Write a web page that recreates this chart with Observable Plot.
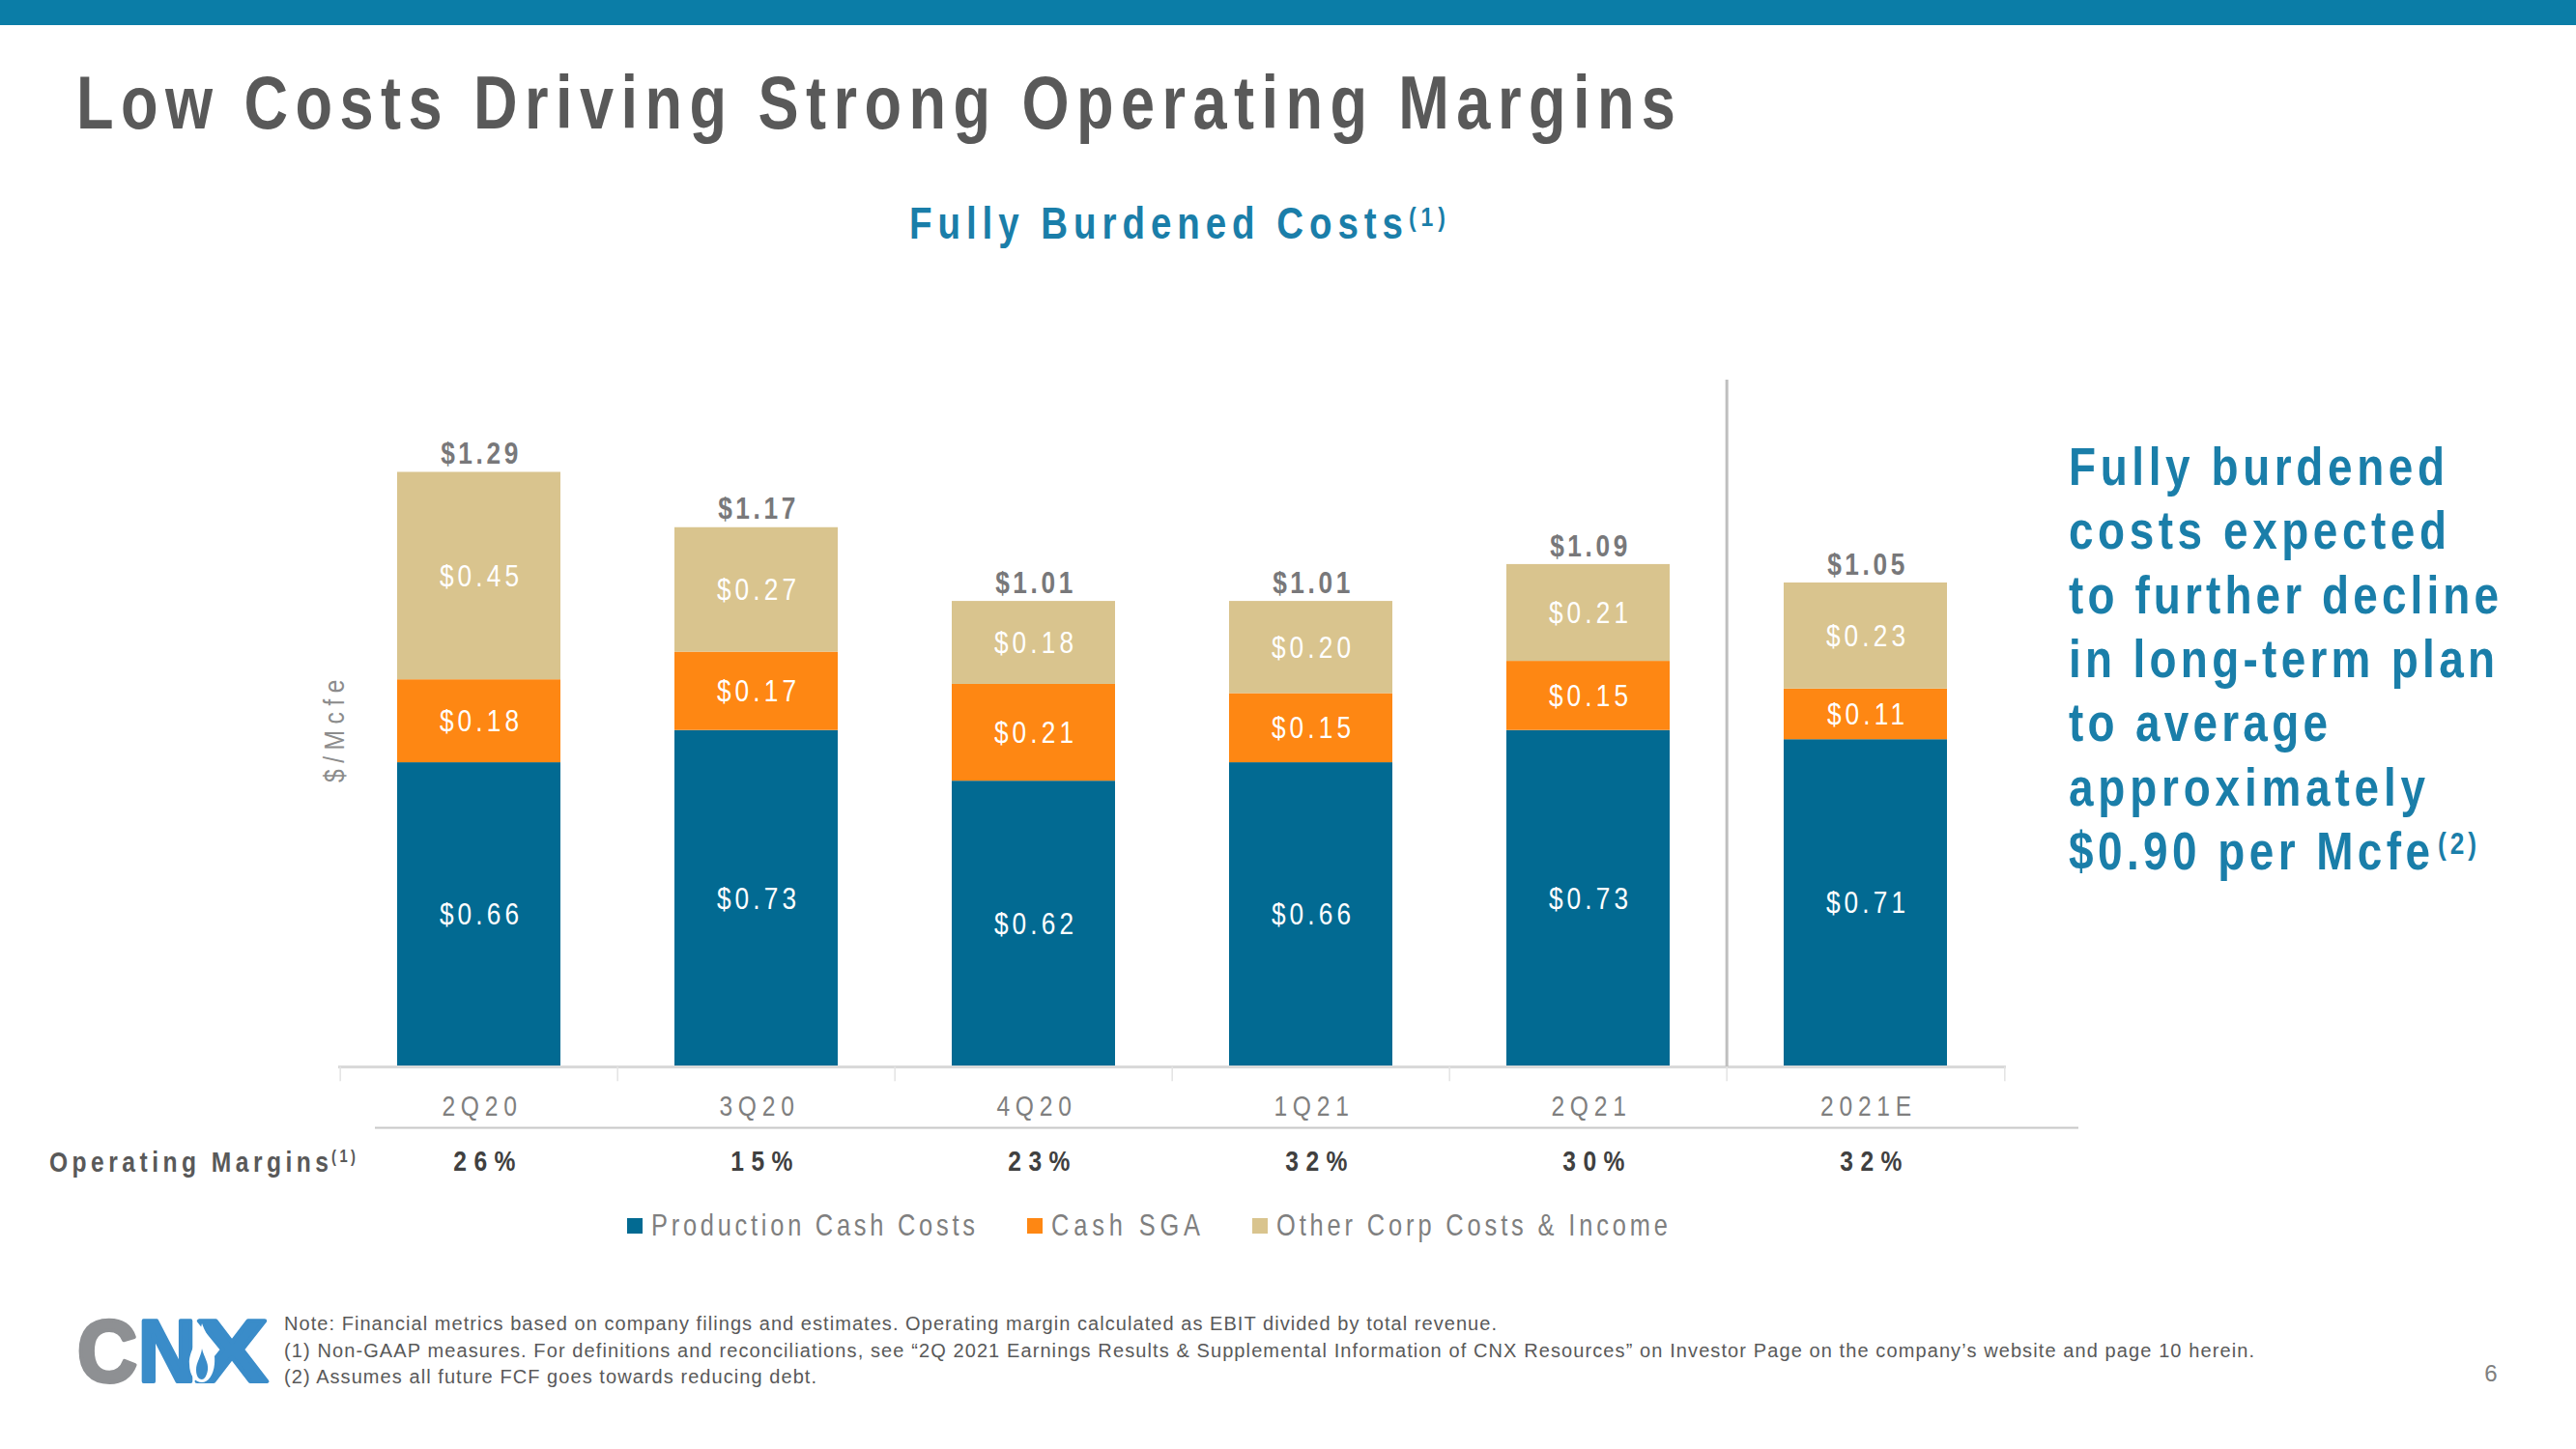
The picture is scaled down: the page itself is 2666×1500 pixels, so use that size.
<!DOCTYPE html>
<html><head><meta charset="utf-8">
<script src="https://cdn.jsdelivr.net/npm/d3@7"></script>
<script src="https://cdn.jsdelivr.net/npm/@observablehq/plot@0.6"></script>
<style>
html,body{margin:0;padding:0;background:#fff;}
body{width:2666px;height:1500px;position:relative;overflow:hidden;}
#overlay{position:absolute;left:0;top:0;}
#chart{position:absolute;left:0;top:380px;}
.seg text{letter-spacing:5px}
.tot text{letter-spacing:4.4px}
.cat text{letter-spacing:7px}
.mar text{letter-spacing:9px}
.ylab text{letter-spacing:8px}
</style>
</head><body>
<svg id="overlay" width="2666" height="1500"></svg>
<div id="chart"></div>
<script>
// ---- data ----
const categories = ["2Q20", "3Q20", "4Q20", "1Q21", "2Q21", "2021E"];
const seriesNames = ["Production Cash Costs", "Cash SGA", "Other Corp Costs & Income"];
const productionCashCosts = [0.66, 0.73, 0.62, 0.66, 0.73, 0.71];
const cashSGA = [0.18, 0.17, 0.21, 0.15, 0.15, 0.11];
const otherCorpCosts = [0.45, 0.27, 0.18, 0.20, 0.21, 0.23];
const totals = [1.29, 1.17, 1.01, 1.01, 1.09, 1.05];
const operatingMargins = ["26%", "15%", "23%", "32%", "30%", "32%"];
const seriesColors = ["#026A92", "#FE8713", "#D9C48E"];

const seriesValues = [productionCashCosts, cashSGA, otherCorpCosts];
const rows = [];
categories.forEach((c, i) => seriesNames.forEach((s, j) => rows.push({category: c, series: s, value: seriesValues[j][i]})));
const totalRows = categories.map((c, i) => ({category: c, total: totals[i]}));
const marginRows = categories.map((c, i) => ({category: c, margin: operatingMargins[i]}));

const SANS = '"Liberation Sans", Arial, sans-serif';
const NARROW_SX = 0.82; // Arial-Narrow-like horizontal compression
const W = 2200, H = 900, ML = 350, MR = 124, MT = 56, MB = 176;
const step = (W - ML - MR) / categories.length;

const chart = Plot.plot({
  width: W, height: H,
  marginLeft: ML, marginRight: MR, marginTop: MT, marginBottom: MB,
  style: {fontFamily: SANS, background: "transparent", overflow: "visible"},
  x: {domain: categories, paddingInner: 0.41, paddingOuter: 0.205, axis: null},
  y: {domain: [0, 1.4], axis: null},
  color: {domain: seriesNames, range: seriesColors},
  marks: [
    Plot.barY(rows, Plot.stackY({x: "category", y: "value", fill: "series"})),
    Plot.text(rows, Plot.stackY({x: "category", y: "value", z: "series",
      text: d => "$" + d.value.toFixed(2), fill: "white", fontSize: 32, lineAnchor: "middle", dx: 2, className: "seg"})),
    Plot.text(totalRows, {x: "category", y: "total", text: d => "$" + d.total.toFixed(2),
      dy: -19, dx: 2, fill: "#78787a", fontWeight: "bold", fontSize: 32, lineAnchor: "middle", className: "tot"}),
    Plot.ruleY([0], {stroke: "#d9d9d9", strokeWidth: 3}),
    Plot.ruleX(categories, {x: d => d, dx: -step / 2, y1: 0, y2: -0.032, stroke: "#e3e3e3", strokeWidth: 1.5}),
    Plot.ruleX([categories[categories.length - 1]], {x: d => d, dx: step / 2, y1: 0, y2: -0.032, stroke: "#e3e3e3", strokeWidth: 1.5}),
    Plot.ruleX([categories[categories.length - 1]], {x: d => d, dx: -step / 2, y1: 0, y2: 1.49, stroke: "#bfbfbf", strokeWidth: 3}),
    Plot.ruleY([0], {dy: 63, insetLeft: 38, insetRight: -75, stroke: "#c8c8c8", strokeWidth: 2}),
    Plot.axisX({tickSize: 0, tickPadding: 29, fontSize: 30, color: "#7f7f7f", label: null, dx: 3, className: "cat"}),
    Plot.text(marginRows, {x: "category", text: "margin", frameAnchor: "bottom", dy: 98, dx: 9,
      fontWeight: "bold", fontSize: 30, fill: "#404040", lineAnchor: "middle", className: "mar"}),
    Plot.text(["$/Mcfe"], {frameAnchor: "left", textAnchor: "middle", rotate: -90, dx: -4, dy: -17,
      fontSize: 30, fill: "#8c8c8c", className: "ylab"})
  ]
});
// emulate a narrow (Arial Narrow-like) face by compressing each label horizontally about its anchor
d3.select(chart).selectAll("text").each(function () {
  const t = this.getAttribute("transform");
  const x = this.getAttribute("x"), y = this.getAttribute("y");
  let base = t || "";
  if (!t && (x != null || y != null)) {
    base = `translate(${x || 0},${y || 0})`;
    this.removeAttribute("x"); this.removeAttribute("y");
  }
  this.setAttribute("transform", `${base} scale(${NARROW_SX},1)`);
});
document.getElementById("chart").appendChild(chart);

// ---- slide decorations ----
const ov = d3.select("#overlay");
ov.append("rect").attr("x", 0).attr("y", 0).attr("width", 2666).attr("height", 26).attr("fill", "#0B7DA7");
function txt(s, x, y, o) {
  const sx = o.sx || 1;
  const t = ov.append("text").attr("transform", `translate(${x},${y}) scale(${sx},1)`).text(s)
    .attr("font-family", o.family || SANS).attr("font-size", o.size)
    .attr("font-weight", o.weight || "normal").attr("fill", o.fill || "#595959")
    .attr("text-anchor", o.anchor || "start");
  if (o.len) t.attr("textLength", o.len / sx).attr("lengthAdjust", o.adjust || "spacing");
  return t;
}
const N = NARROW_SX;
const TEAL = "#1A7EA9";
txt("Low Costs Driving Strong Operating Margins", 79, 133, {size: 77, weight: "bold", fill: "#595959", len: 1655, sx: N});
txt("Fully Burdened Costs", 941, 247, {size: 47, weight: "bold", fill: TEAL, len: 511, sx: N});
txt("(1)", 1458, 234, {size: 28, weight: "bold", fill: TEAL, len: 38, sx: N});

const sideLines = ["Fully burdened", "costs expected", "to further decline", "in long-term plan", "to average", "approximately", "$0.90 per Mcfe"];
const sideLens = [389, 391, 445, 441, 268, 369, 374];
sideLines.forEach((s, i) => txt(s, 2141, 502 + 66.3 * i, {size: 56, weight: "bold", fill: TEAL, len: sideLens[i], sx: N}));
txt("(2)", 2523, 884, {size: 32, weight: "bold", fill: TEAL, len: 40, sx: N});

txt("Operating Margins", 51, 1213, {size: 30, weight: "bold", fill: "#595959", len: 289, sx: N});
txt("(1)", 343, 1203, {size: 18, weight: "bold", fill: "#595959", len: 25, sx: N});

// legend
const legendX = [649, 1063, 1296];
const legendLens = [335, 154, 405];
seriesNames.forEach((s, i) => {
  ov.append("rect").attr("x", legendX[i]).attr("y", 1261).attr("width", 16).attr("height", 16).attr("fill", seriesColors[i]);
  txt(s, legendX[i] + 25, 1279, {size: 31, fill: "#7f7f7f", len: legendLens[i], sx: N});
});

// footnotes
const notes = [
  "Note: Financial metrics based on company filings and estimates. Operating margin calculated as EBIT divided by total revenue.",
  "(1) Non-GAAP measures. For definitions and reconciliations, see \u201c2Q 2021 Earnings Results & Supplemental Information of CNX Resources\u201d on Investor Page on the company\u2019s website and page 10 herein.",
  "(2) Assumes all future FCF goes towards reducing debt."
];
const noteLens = [1255, 2039, 551];
notes.forEach((s, i) => txt(s, 294, 1377 + 27.5 * i, {size: 20, fill: "#595959", len: noteLens[i]}));
txt("6", 2578, 1430, {size: 24, fill: "#7f7f7f", anchor: "middle"});

// logo
const LOGO_GRAY = "#8E9093", LOGO_BLUE = "#3A8CC9";
[["C", 80, 62, LOGO_GRAY], ["N", 143, 60, LOGO_BLUE], ["X", 203, 74, LOGO_BLUE]].forEach(([ch, x, w, c]) => {
  txt(ch, x, 1430, {size: 90, weight: 900, fill: c, len: w, adjust: "spacingAndGlyphs"})
    .attr("stroke", c).attr("stroke-width", 4).attr("stroke-linejoin", "round");
});
ov.append("path").attr("fill", "#fff")
  .attr("d", "M209,1370 C214,1384 224,1395 222,1412 C221,1424 215,1431 209,1431 C202,1431 196,1424 196,1412 C195,1399 205,1389 209,1370 Z");
ov.append("path").attr("fill", LOGO_BLUE)
  .attr("d", "M209,1396 C211,1405 216,1410 215,1418 C214,1425 211,1428 209,1428 C206,1428 203,1425 203,1418 C203,1410 208,1405 209,1396 Z");
</script>
</body></html>
